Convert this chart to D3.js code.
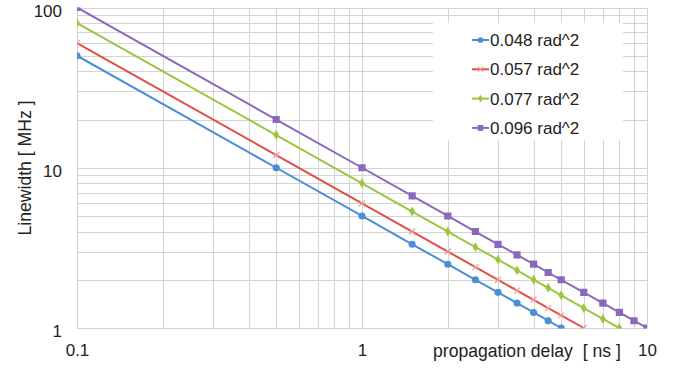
<!DOCTYPE html>
<html>
<head>
<meta charset="utf-8">
<script src="https://cdn.jsdelivr.net/npm/d3@7"></script>
<style>
    body { margin: 0; background: #fff; }
    svg { display: block; font-family: "Liberation Sans", Arial, Helvetica, sans-serif; }
</style>
</head>
<body>
<div id="chart"></div>
<script>
// Linewidth vs propagation delay (log-log)

const delays = [0.1, 0.5, 1, 1.5, 2, 2.5, 3, 3.5, 4, 4.5, 5, 6, 7, 8, 9, 10];

const seriesNames = ['0.048 rad^2', '0.057 rad^2', '0.077 rad^2', '0.096 rad^2'];
const blueValues = [50, 10, 5, 3.33, 2.5, 2, 1.67, 1.43, 1.25, 1.11, 1.0];
const redValues = [60, 12, 6, 4, 3, 2.4, 2, 1.71, 1.5, 1.33, 1.2, 1.0];
const greenValues = [80, 16, 8, 5.33, 4, 3.2, 2.67, 2.29, 2, 1.78, 1.6, 1.33, 1.14, 1.0];
const purpleValues = [100, 20, 10, 6.67, 5, 4, 3.33, 2.86, 2.5, 2.22, 2, 1.67, 1.43, 1.25, 1.11, 1.0];

const xTickLabels = [0.1, 1, 10];
const yTickLabels = [1, 10, 100];

const colors = ['#4a8fd6', '#df4f48', '#9bc640', '#8c68bd'];
const markers = ['circle', 'cross', 'diamond', 'square'];

function drawChart() {
    const W = 685, H = 373;
    const margin = { top: 7.5, right: 38, bottom: 45, left: 77 };
    const width = W - margin.left - margin.right;
    const height = H - margin.top - margin.bottom;

    const svg = d3.select('#chart').append('svg')
        .attr('width', W)
        .attr('height', H);

    const g = svg.append('g')
        .attr('transform', `translate(${margin.left},${margin.top})`);

    const x = d3.scaleLog().domain([0.1, 10]).range([0, width]);
    const y = d3.scaleLog().domain([1, 100]).range([height, 0]);

    // Grid
    const grid = g.append('g').attr('class', 'grid');
    grid.append('g')
        .attr('transform', `translate(0,${height})`)
        .call(d3.axisBottom(x).ticks(20).tickSize(-height).tickFormat(''));
    grid.append('g')
        .call(d3.axisLeft(y).ticks(20).tickSize(-width).tickFormat(''));
    grid.selectAll('.domain').remove();
    grid.selectAll('line')
        .attr('stroke', '#d4d4d4')
        .attr('stroke-width', 1)
        .attr('shape-rendering', 'crispEdges');

    // Legend background hides the grid under it
    g.append('rect')
        .attr('x', 433 - margin.left)
        .attr('y', 23 - margin.top)
        .attr('width', 190)
        .attr('height', 117)
        .attr('fill', '#fff');

    // Tick labels
    g.append('g')
        .attr('transform', `translate(0,${height})`)
        .call(d3.axisBottom(x).tickValues(xTickLabels).tickSize(0).tickPadding(16)
            .tickFormat(d3.format('~g')))
        .call(a => a.select('.domain').remove())
        .selectAll('text')
        .attr('fill', '#222')
        .attr('font-size', '17px')
        .attr('font-family', null);

    g.append('g')
        .call(d3.axisLeft(y).tickValues(yTickLabels).tickSize(0).tickPadding(15)
            .tickFormat(d3.format('~g')))
        .call(a => a.select('.domain').remove())
        .selectAll('text')
        .attr('fill', '#222')
        .attr('dy', '0.5em')
        .attr('font-size', '17px')
        .attr('font-family', null);

    // Axis titles
    g.append('text')
        .attr('x', 433 - margin.left)
        .attr('y', height + 29)
        .attr('fill', '#222')
        .attr('font-size', '17.6px')
        .style('white-space', 'pre')
        .text('propagation delay  [ ns ]');

    g.append('text')
        .attr('transform', 'rotate(-90)')
        .attr('x', -(168 - margin.top))
        .attr('y', 31 - margin.left)
        .attr('text-anchor', 'middle')
        .attr('fill', '#222')
        .attr('font-size', '17.6px')
        .text('Linewidth [ MHz ]');

    // Series
    const allValues = [blueValues, redValues, greenValues, purpleValues];
    const series = allValues.map((vals, i) => ({
        name: seriesNames[i],
        color: colors[i],
        marker: markers[i],
        points: vals.map((v, j) => ({ x: delays[j], y: v }))
    }));

    svg.append('clipPath').attr('id', 'plot-clip')
        .append('rect')
        .attr('width', width)
        .attr('height', height + 0.5);

    const plot = g.append('g').attr('clip-path', 'url(#plot-clip)');

    const line = d3.line()
        .x(d => x(d.x))
        .y(d => y(d.y));

    series.forEach(s => {
        plot.append('path')
            .datum(s.points)
            .attr('fill', 'none')
            .attr('stroke', s.color)
            .attr('stroke-width', 2)
            .attr('d', line);
    });

    function drawMarker(sel, s, scale) {
        if (s.marker === 'cross') {
            const r = 3 * scale;
            sel.append('path')
                .attr('d', `M${-r},${-r}L${r},${r}M${-r},${r}L${r},${-r}`)
                .attr('stroke', '#f09a96')
                .attr('stroke-width', 1.2)
                .attr('fill', 'none');
        } else {
            const type = { circle: d3.symbolCircle, diamond: d3.symbolDiamond, square: d3.symbolSquare }[s.marker];
            const size = { circle: 40, diamond: 28, square: 52 }[s.marker] * scale * scale;
            sel.append('path')
                .attr('d', d3.symbol().type(type).size(size)())
                .attr('fill', s.color);
        }
    }

    series.forEach(s => {
        plot.selectAll(null)
            .data(s.points)
            .enter()
            .append('g')
            .attr('transform', d => `translate(${x(d.x)},${y(d.y)})`)
            .each(function () { drawMarker(d3.select(this), s, 1); });
    });

    // Legend
    const legend = svg.append('g').attr('transform', 'translate(472,40)');
    series.forEach((s, i) => {
        const row = legend.append('g').attr('transform', `translate(0,${i * 29.3})`);
        row.append('line')
            .attr('x1', 0).attr('x2', 17)
            .attr('stroke', s.color)
            .attr('stroke-width', 2);
        const m = row.append('g').attr('transform', 'translate(8.5,0)');
        drawMarker(m, s, 0.8);
        row.append('text')
            .attr('x', 18)
            .attr('dy', '0.36em')
            .attr('fill', '#222')
            .attr('font-size', '17px')
            .text(s.name);
    });
}

drawChart();
</script>
</body>
</html>
